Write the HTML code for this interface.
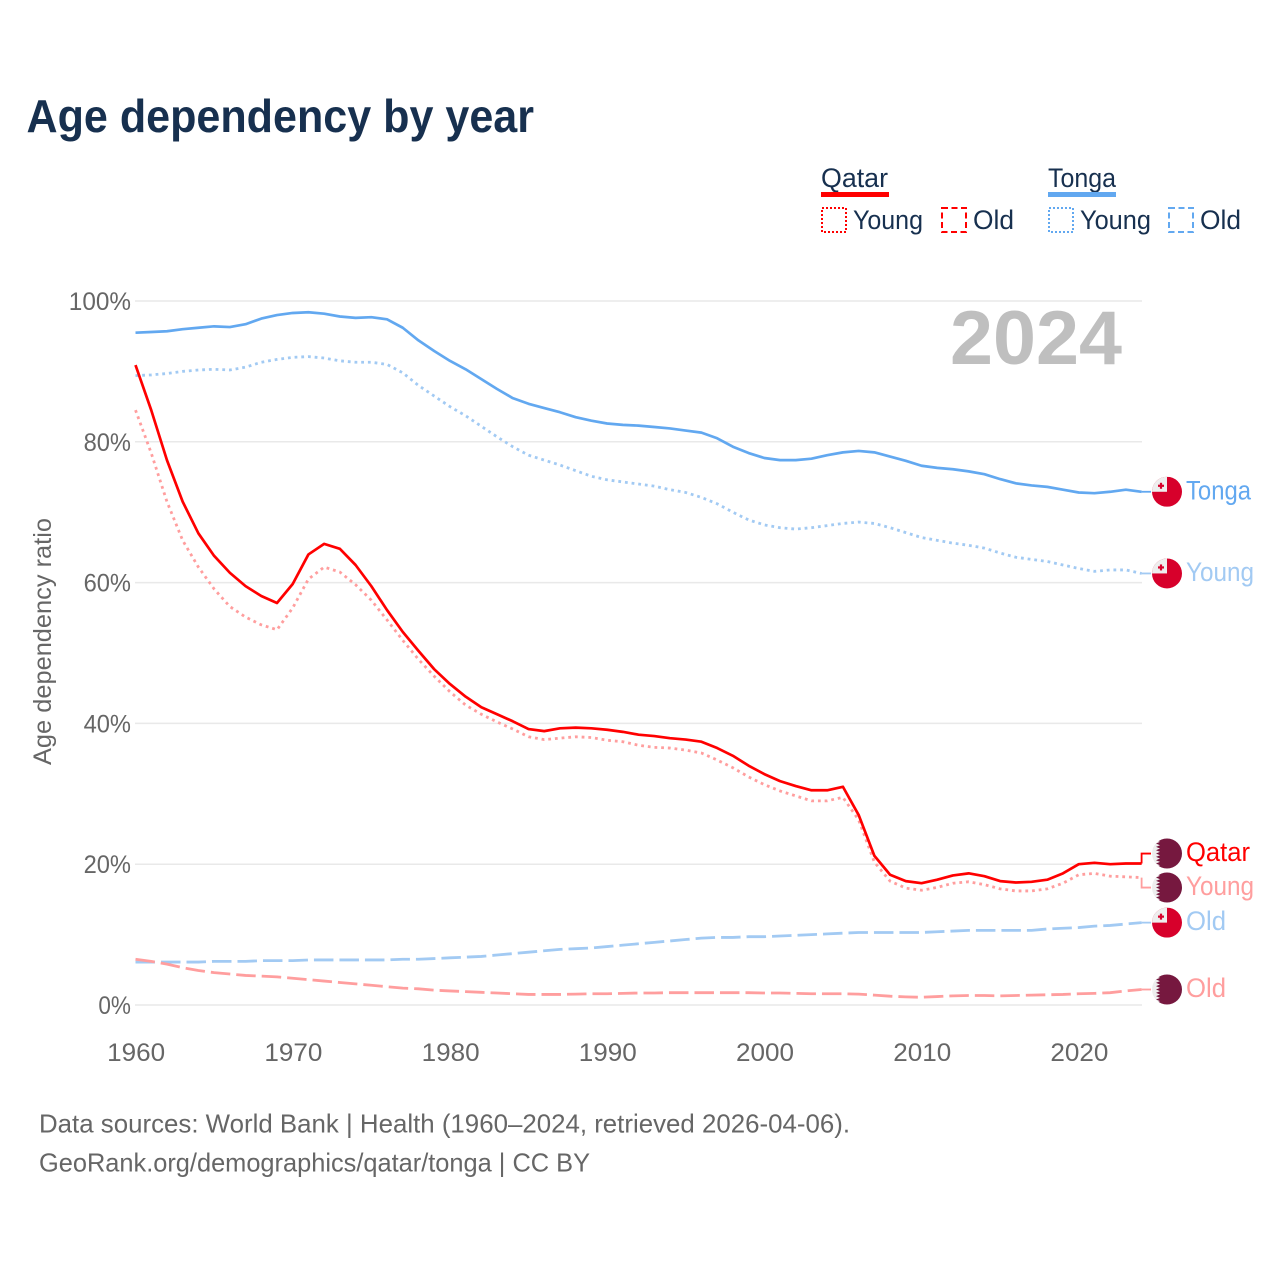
<!DOCTYPE html>
<html lang="en">
<head>
<meta charset="utf-8">
<title>Age dependency by year</title>
<style>
html,body{margin:0;padding:0;background:#fff;}
svg{display:block;}
text{font-family:"Liberation Sans",sans-serif;}
</style>
</head>
<body>
<svg id="chart" xmlns="http://www.w3.org/2000/svg" width="1280" height="1280" viewBox="0 0 1280 1280">
  <rect x="0" y="0" width="1280" height="1280" fill="#ffffff"/>
  <text x="26.5" y="132" font-size="46" font-weight="700" fill="#17304f" textLength="507.5" lengthAdjust="spacingAndGlyphs">Age dependency by year</text>

  <g>
    <g>
      <text x="821" y="187" font-size="27" fill="#17304f" textLength="67" lengthAdjust="spacingAndGlyphs">Qatar</text>
      <rect x="821" y="192" width="68" height="5" fill="#ff0000"/>
      <rect x="822" y="208" width="24" height="24" fill="none" stroke="#ff0000" stroke-width="2" stroke-dasharray="2 2"/>
      <text x="853" y="229" font-size="27" fill="#17304f" textLength="70" lengthAdjust="spacingAndGlyphs">Young</text>
      <rect x="942" y="208" width="24" height="24" fill="none" stroke="#ff0000" stroke-width="2" stroke-dasharray="6 3.5"/>
      <text x="973" y="229" font-size="27" fill="#17304f" textLength="41" lengthAdjust="spacingAndGlyphs">Old</text>
    </g>
    <g>
      <text x="1048" y="187" font-size="27" fill="#17304f" textLength="68" lengthAdjust="spacingAndGlyphs">Tonga</text>
      <rect x="1048" y="192" width="68" height="5" fill="#62a8f0"/>
      <rect x="1049" y="208" width="24" height="24" fill="none" stroke="#62a8f0" stroke-width="2" stroke-dasharray="2 2"/>
      <text x="1080" y="229" font-size="27" fill="#17304f" textLength="71" lengthAdjust="spacingAndGlyphs">Young</text>
      <rect x="1169" y="208" width="24" height="24" fill="none" stroke="#62a8f0" stroke-width="2" stroke-dasharray="6 3.5"/>
      <text x="1200" y="229" font-size="27" fill="#17304f" textLength="41" lengthAdjust="spacingAndGlyphs">Old</text>
    </g>
  </g>

  <g id="grid"></g>
  <text x="950" y="364" font-size="76" font-weight="700" fill="#bfbfbf" textLength="172" lengthAdjust="spacingAndGlyphs">2024</text>
  <g id="yticks"></g>
  <g id="xticks"></g>
  <text transform="translate(51,765) rotate(-90)" x="0" y="0" font-size="25" fill="#666666" textLength="247" lengthAdjust="spacingAndGlyphs">Age dependency ratio</text>
  <g id="series"></g>
  <g id="endmarks"></g>

  <text x="39" y="1132.5" font-size="26" fill="#666666" textLength="811" lengthAdjust="spacingAndGlyphs">Data sources: World Bank | Health (1960–2024, retrieved 2026-04-06).</text>
  <text x="39" y="1171.5" font-size="26" fill="#666666" textLength="551" lengthAdjust="spacingAndGlyphs">GeoRank.org/demographics/qatar/tonga | CC BY</text>
</svg>
<script>
const startYear = 1960;
const endYear = 2024;
const xTickYears = [1960, 1970, 1980, 1990, 2000, 2010, 2020];
const xTickLabels = ['1960', '1970', '1980', '1990', '2000', '2010', '2020'];
const yTickValues = [0, 20, 40, 60, 80, 100];
const yTickLabels = ['0%', '20%', '40%', '60%', '80%', '100%'];

const tongaTotal = [95.5,95.6,95.7,96.0,96.2,96.4,96.3,96.7,97.5,98.0,98.3,98.4,98.2,97.8,97.6,97.7,97.4,96.2,94.4,92.9,91.5,90.3,88.9,87.5,86.2,85.4,84.8,84.2,83.5,83.0,82.6,82.4,82.3,82.1,81.9,81.6,81.3,80.5,79.3,78.4,77.7,77.4,77.4,77.6,78.1,78.5,78.7,78.5,77.9,77.3,76.6,76.3,76.1,75.8,75.4,74.7,74.1,73.8,73.6,73.2,72.8,72.7,72.9,73.2,72.9];
const tongaYoung = [89.4,89.5,89.7,90.0,90.2,90.3,90.2,90.6,91.3,91.7,92.0,92.1,91.9,91.5,91.3,91.3,91.0,89.8,88.0,86.5,85.0,83.7,82.2,80.7,79.3,78.1,77.4,76.7,75.9,75.1,74.6,74.3,74.0,73.7,73.2,72.8,72.1,71.2,70.0,68.9,68.2,67.8,67.6,67.8,68.1,68.4,68.6,68.4,67.8,67.1,66.4,66.0,65.6,65.3,64.9,64.2,63.6,63.3,63.0,62.5,62.0,61.6,61.8,61.8,61.3];
const tongaOld = [6.1,6.1,6.1,6.1,6.1,6.2,6.2,6.2,6.3,6.3,6.3,6.4,6.4,6.4,6.4,6.4,6.4,6.5,6.5,6.6,6.7,6.8,6.9,7.1,7.3,7.5,7.7,7.9,8.0,8.1,8.3,8.5,8.7,8.9,9.1,9.3,9.5,9.6,9.6,9.7,9.7,9.8,9.9,10.0,10.1,10.2,10.3,10.3,10.3,10.3,10.3,10.4,10.5,10.6,10.6,10.6,10.6,10.6,10.8,10.9,11.0,11.2,11.3,11.5,11.7];
const qatarTotal = [90.9,84.5,77.4,71.5,67.0,63.8,61.4,59.5,58.1,57.1,59.8,64.0,65.5,64.8,62.5,59.5,56.1,53.0,50.3,47.7,45.6,43.8,42.3,41.3,40.3,39.2,38.9,39.3,39.4,39.3,39.1,38.8,38.4,38.2,37.9,37.7,37.4,36.5,35.4,34.0,32.8,31.8,31.1,30.5,30.5,31.0,27.0,21.2,18.5,17.6,17.3,17.8,18.4,18.7,18.3,17.6,17.4,17.5,17.8,18.7,20.0,20.2,20.0,20.1,20.1];
const qatarYoung = [84.5,78.4,71.5,66.0,62.2,59.1,56.6,55.1,54.0,53.3,56.4,60.5,62.2,61.5,59.7,57.5,54.7,51.8,49.1,46.7,44.5,42.6,41.3,40.2,39.2,38.1,37.7,37.9,38.1,38.0,37.6,37.4,36.9,36.6,36.5,36.2,35.8,34.8,33.7,32.4,31.3,30.4,29.7,29.0,29.0,29.5,26.3,20.3,17.6,16.6,16.3,16.7,17.3,17.5,17.1,16.5,16.2,16.2,16.5,17.3,18.5,18.7,18.3,18.2,18.1];
const qatarOld = [6.5,6.2,5.8,5.3,4.9,4.6,4.4,4.2,4.1,4.0,3.8,3.6,3.4,3.2,3.0,2.8,2.6,2.4,2.3,2.1,2.0,1.9,1.8,1.7,1.6,1.5,1.5,1.5,1.55,1.6,1.6,1.65,1.7,1.7,1.75,1.75,1.75,1.75,1.75,1.75,1.7,1.7,1.65,1.6,1.6,1.6,1.55,1.4,1.25,1.15,1.1,1.2,1.3,1.35,1.35,1.3,1.35,1.4,1.45,1.5,1.6,1.65,1.75,2.0,2.2];

const NS = 'http://www.w3.org/2000/svg';
function xScale(year) { return 135.5 + (year - startYear) * (1141.6 - 135.5) / (endYear - startYear); }
function yScale(v) { return 1005 - v * 7.04; }
function make(tag, attrs, parent) {
  const el = document.createElementNS(NS, tag);
  for (const k in attrs) el.setAttribute(k, attrs[k]);
  parent.appendChild(el);
  return el;
}

const gridG = document.getElementById('grid');
const yG = document.getElementById('yticks');
yTickValues.forEach(function (v, i) {
  const line = make('line', {x1: 135, x2: 1142, y1: yScale(v), y2: yScale(v), stroke: '#e9e9e9', 'stroke-width': 1.5}, gridG);
  
  
  const t = make('text', {x: 131, y: yScale(v) + 9, 'font-size': 25, fill: '#666666', 'text-anchor': 'end', textLength: yTickLabels[i].length * 14.8 + 3, lengthAdjust: 'spacingAndGlyphs'}, yG);
  t.textContent = yTickLabels[i];
  
  
});

const xG = document.getElementById('xticks');
xTickYears.forEach(function (yr, i) {
  const t = make('text', {x: xScale(yr) + 0.7, y: 1061, 'font-size': 25, fill: '#666666', 'text-anchor': 'middle', textLength: 58, lengthAdjust: 'spacingAndGlyphs'}, xG);
  t.textContent = xTickLabels[i];
  
  
});

const seriesG = document.getElementById('series');
function drawLine(values, color, dash) {
  const d = values.map(function (v, i) {
    return (i ? 'L' : 'M') + xScale(startYear + i).toFixed(2) + ' ' + yScale(v).toFixed(2);
  }).join('');
  const attrs = {d: d, fill: 'none', stroke: color, 'stroke-width': dash ? 2.8 : 2.7, 'stroke-linejoin': 'round'};
  if (dash) attrs['stroke-dasharray'] = dash;
  return make('path', attrs, seriesG);
}
const RED = '#ff0000', PALERED = '#ff9e9e', BLUE = '#62a8f0', PALEBLUE = '#a2caf3';
const DOT = '2.8 3.9', DASH = '19.5 6';
let p;
p = drawLine(tongaOld, PALEBLUE, DASH);


p = drawLine(qatarOld, PALERED, DASH);


p = drawLine(tongaYoung, PALEBLUE, DOT);


p = drawLine(qatarYoung, PALERED, DOT);


p = drawLine(tongaTotal, BLUE, null);


p = drawLine(qatarTotal, RED, null);



/* End labels: spaced apart so none collide, each joined to its series end. */
const ends = [
  {label: 'Tonga', values: tongaTotal, color: BLUE, flag: 'tonga', w: 65},
  {label: 'Young', values: tongaYoung, color: PALEBLUE, flag: 'tonga', w: 68},
  {label: 'Qatar', values: qatarTotal, color: RED, flag: 'qatar', w: 64},
  {label: 'Young', values: qatarYoung, color: PALERED, flag: 'qatar', w: 68},
  {label: 'Old', values: tongaOld, color: PALEBLUE, flag: 'tonga', w: 40},
  {label: 'Old', values: qatarOld, color: PALERED, flag: 'qatar', w: 40}
];
ends.forEach(function (e) { e.y0 = yScale(e.values[e.values.length - 1]); e.y = e.y0; });
ends.sort(function (a, b) { return a.y0 - b.y0; });
const GAP = 34;
for (let iter = 0; iter < 30; iter++) {
  for (let i = 1; i < ends.length; i++) {
    const overlap = GAP - (ends[i].y - ends[i - 1].y);
    if (overlap > 0) { ends[i - 1].y -= overlap / 2; ends[i].y += overlap / 2; }
  }
}

const endG = document.getElementById('endmarks');
const defs = make('defs', {}, endG);
function drawFlag(kind, cy, idx) {
  const cx = 1167, r = 15;
  const clipId = 'flag-clip-' + idx;
  const cp = make('clipPath', {id: clipId}, defs);
  make('circle', {cx: cx, cy: cy, r: r}, cp);
  const g = make('g', {'clip-path': 'url(#' + clipId + ')'}, endG);
  if (kind === 'tonga') {
    make('rect', {x: cx - r, y: cy - r, width: 2 * r, height: 2 * r, fill: '#d7002b'}, g);
    make('rect', {x: cx - r, y: cy - r, width: r, height: r, fill: '#eeeeee'}, g);
    make('rect', {x: cx - 9, y: cy - 7.1, width: 6, height: 2.2, fill: '#d7002b'}, g);
    make('rect', {x: cx - 7.1, y: cy - 9, width: 2.2, height: 6, fill: '#d7002b'}, g);
  } else {
    make('rect', {x: cx - r, y: cy - r, width: 2 * r, height: 2 * r, fill: '#eeeeee'}, g);
    let pts = [(cx + r) + ',' + (cy - r), (cx - 7) + ',' + (cy - r)];
    const teeth = 9, h = 2 * r / teeth;
    for (let t = 0; t < teeth; t++) {
      pts.push((cx - 11) + ',' + (cy - r + h * (t + 0.5)));
      pts.push((cx - 7) + ',' + (cy - r + h * (t + 1)));
    }
    pts.push((cx + r) + ',' + (cy + r));
    make('polygon', {points: pts.join(' '), fill: '#76183f'}, g);
  }
  return g;
}
ends.forEach(function (e, i) {
  const c = make('path', {d: 'M1141.6 ' + e.y0.toFixed(2) + 'V' + e.y.toFixed(2) + 'H1151', fill: 'none', stroke: e.color, 'stroke-width': 1.8}, endG);
  
  
  const f = drawFlag(e.flag, e.y, i);
  
  
  const t = make('text', {x: 1186, y: e.y + 7.5, 'font-size': 27, fill: e.color, textLength: e.w, lengthAdjust: 'spacingAndGlyphs'}, endG);
  t.textContent = e.label;
  
  
});
</script>
</body>
</html>
